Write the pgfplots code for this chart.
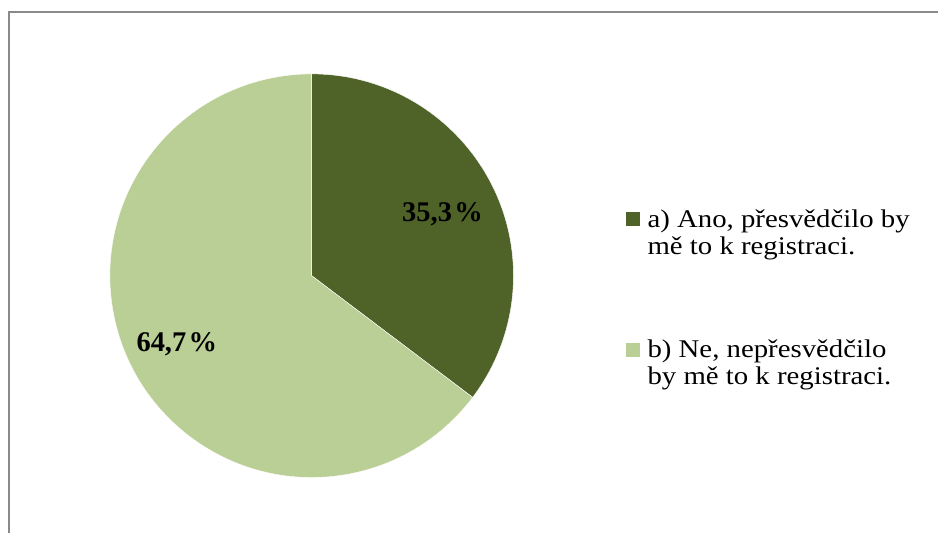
\documentclass[border=0pt]{standalone}
\usepackage{fontspec}
\setmainfont{Liberation Serif}
\usepackage{pgfplots}
\usepackage{pgfplotstable}
\pgfplotsset{compat=1.18}

\definecolor{darkg}{HTML}{4F6228}
\definecolor{lightg}{HTML}{BACF96}
\definecolor{framegray}{HTML}{8A8A8A}

% shares of the two answers (percent)
\pgfplotstableread{
share
35.3
64.7
}\pietable

\begin{document}%
\pgfplotstablegetelem{0}{share}\of\pietable\let\shareA\pgfplotsretval%
\pgfplotstablegetelem{1}{share}\of\pietable\let\shareB\pgfplotsretval%
\pgfmathsetmacro\angA{90-3.6*\shareA}%
\pgfmathsetmacro\angB{\angA-3.6*\shareB}%
\begin{tikzpicture}
\begin{axis}[
    scale only axis,
    width=939pt, height=534pt,
    xmin=0, xmax=939,
    ymin=0, ymax=534,
    hide axis,
    clip=false
]
\fill[white] (axis cs:0,0) rectangle (axis cs:939,534);
% chart frame (only top and left visible)
\draw[framegray, line width=2pt] (axis cs:9.5,0) -- (axis cs:9.5,521.5) -- (axis cs:939,521.5);

% pie slices, clockwise from the top
\fill[darkg, draw=white, line width=0.4pt] (axis cs:312,258) -- (axis cs:312,460)
    arc[start angle=90, end angle=\angA, radius=202pt] -- cycle;
\fill[lightg, draw=white, line width=0.4pt] (axis cs:312,258) -- ++(\angA:202pt)
    arc[start angle=\angA, end angle=\angB, radius=202pt] -- cycle;

% data labels
\node[anchor=base, font=\bfseries\fontsize{28.5}{34}\selectfont] at (axis cs:443,312) {35,3\kern0.08em\%};
\node[anchor=base, font=\bfseries\fontsize{28.5}{34}\selectfont] at (axis cs:177,182) {64,7\kern0.08em\%};

% legend
\fill[darkg] (axis cs:627,308) rectangle (axis cs:641,322);
\node[anchor=base west, xscale=1.13, inner sep=0pt, font=\fontsize{25.5}{30}\selectfont] at (axis cs:648,306) {a) Ano, přesvědčilo by};
\node[anchor=base west, xscale=1.13, inner sep=0pt, font=\fontsize{25.5}{30}\selectfont] at (axis cs:648,279) {mě to k registraci.};
\fill[lightg] (axis cs:627,177) rectangle (axis cs:641,191);
\node[anchor=base west, xscale=1.13, inner sep=0pt, font=\fontsize{25.5}{30}\selectfont] at (axis cs:648,176) {b) Ne, nepřesvědčilo};
\node[anchor=base west, xscale=1.13, inner sep=0pt, font=\fontsize{25.5}{30}\selectfont] at (axis cs:648,149) {by mě to k registraci.};
\end{axis}
\end{tikzpicture}%
\end{document}
